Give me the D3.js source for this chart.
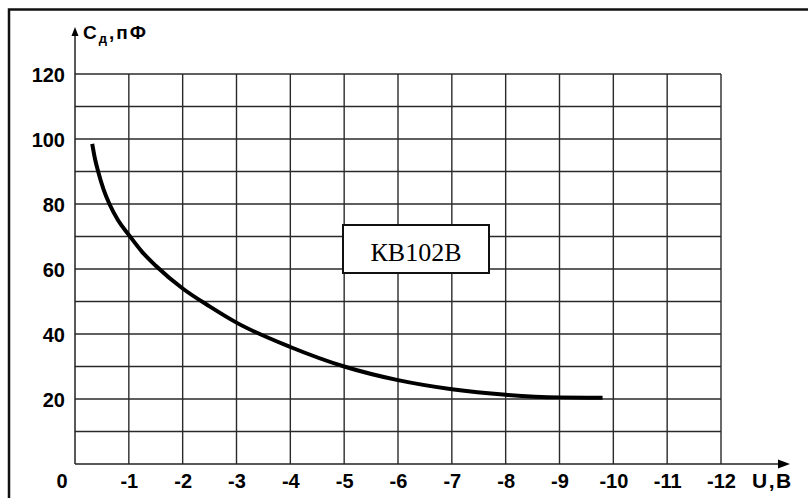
<!DOCTYPE html>
<html><head><meta charset="utf-8">
<script src="https://cdn.jsdelivr.net/npm/d3@7"></script>
<style>
html,body{margin:0;padding:0;background:#fff;}
svg{display:block;}
</style></head>
<body>
<svg id="chart" width="808" height="498"></svg>
<script>
// Data
const voltage = [-0.32, -0.37, -0.43, -0.53, -0.64, -0.8, -1.0, -1.25, -1.5, -2, -2.5, -3, -4, -5, -6, -7, -8, -9, -9.8];
const capacitance = [98.5, 94, 90, 84.5, 80, 75, 70.5, 65.2, 61, 54, 48.5, 43.5, 36, 30, 25.8, 23, 21.3, 20.5, 20.4];
const xTicks = [-1, -2, -3, -4, -5, -6, -7, -8, -9, -10, -11, -12];
const yTicks = [20, 40, 60, 80, 100, 120];
const yGrid = [10, 20, 30, 40, 50, 60, 70, 80, 90, 100, 110, 120];
const yLabel = ["С", "д", ",пФ"];
const xLabel = "U,В";
const deviceName = "КВ102В";

const svg = d3.select("#chart");
const x = d3.scaleLinear().domain([0, -12]).range([75, 721]);
const y = d3.scaleLinear().domain([0, 120]).range([464, 74]);

// outer frame (cut at right/bottom)
svg.append("path").attr("d", "M9,498 V9.5 H808").attr("fill", "none")
  .attr("stroke", "#111").attr("stroke-width", 2.5);

// grid
const g = svg.append("g");
g.selectAll("line.v").data(xTicks).join("line")
  .attr("x1", d => x(d)).attr("x2", d => x(d))
  .attr("y1", y(0)).attr("y2", y(120))
  .attr("stroke", "#2a2a2a").attr("stroke-width", 1.4);
g.selectAll("line.h").data(yGrid).join("line")
  .attr("x1", x(0)).attr("x2", x(-12))
  .attr("y1", d => y(d)).attr("y2", d => y(d))
  .attr("stroke", "#2a2a2a").attr("stroke-width", 1.4);

// axes lines with arrows
svg.append("line").attr("x1", x(0)).attr("x2", x(0)).attr("y1", y(0)).attr("y2", 34)
  .attr("stroke", "#222").attr("stroke-width", 1.5);
svg.append("path").attr("d", `M${x(0)},27 L${x(0)-3.5},36 L${x(0)+3.5},36 Z`).attr("fill", "#000");
svg.append("line").attr("x1", x(0)).attr("x2", 781).attr("y1", y(0)).attr("y2", y(0))
  .attr("stroke", "#222").attr("stroke-width", 1.5);
svg.append("path").attr("d", `M790,${y(0)} L778,${y(0)-4.5} L778,${y(0)+4.5} Z`).attr("fill", "#000");

const font = "Arial, 'Liberation Sans', sans-serif";
// y tick labels via axis
const yAxis = svg.append("g").attr("transform", "translate(65,0)")
  .call(d3.axisLeft(y).tickValues(yTicks).tickSize(0).tickPadding(0));
yAxis.select(".domain").remove();
yAxis.selectAll("text").attr("font-family", font).attr("font-weight", "bold")
  .attr("font-size", 20).attr("fill", "#000").attr("dy", "0.36em");

// x tick labels via axis
const xAxis = svg.append("g").attr("transform", `translate(0,${y(0)})`)
  .call(d3.axisBottom(x).tickValues(xTicks).tickSize(0).tickPadding(0).tickFormat(d => "-" + Math.abs(d)));
xAxis.select(".domain").remove();
xAxis.selectAll("text").attr("font-family", font).attr("font-weight", "bold")
  .attr("font-size", 20).attr("fill", "#000").attr("y", 24).attr("dy", 0);

// zero label
svg.append("text").attr("x", 62).attr("y", 488).attr("text-anchor", "middle")
  .attr("font-family", font).attr("font-weight", "bold").attr("font-size", 20).text("0");

// axis titles
const yt = svg.append("text").attr("x", 83).attr("y", 39)
  .attr("font-family", font).attr("font-weight", "bold").attr("font-size", 19)
  .attr("letter-spacing", 2);
yt.append("tspan").text(yLabel[0]);
yt.append("tspan").attr("font-size", 13).attr("dy", 4).text(yLabel[1]);
yt.append("tspan").attr("dy", -4).text(yLabel[2]);

svg.append("text").attr("x", 752).attr("y", 488)
  .attr("font-family", font).attr("font-weight", "bold").attr("font-size", 21)
  .attr("letter-spacing", 1.5).text(xLabel);

// curve
const pts = voltage.map((v, i) => [v, capacitance[i]]);
svg.append("path").datum(pts)
  .attr("d", d3.line().x(d => x(d[0])).y(d => y(d[1])).curve(d3.curveMonotoneX))
  .attr("fill", "none").attr("stroke", "#000").attr("stroke-width", 4).attr("stroke-linecap", "butt");

// device label box
svg.append("rect").attr("x", 343).attr("y", 225).attr("width", 146).attr("height", 48)
  .attr("fill", "#fff").attr("stroke", "#111").attr("stroke-width", 2);
svg.append("text").attr("x", 416).attr("y", 261).attr("text-anchor", "middle")
  .attr("font-family", "'Liberation Serif', 'Times New Roman', serif").attr("font-size", 26)
  .text(deviceName);
</script>
</body></html>
